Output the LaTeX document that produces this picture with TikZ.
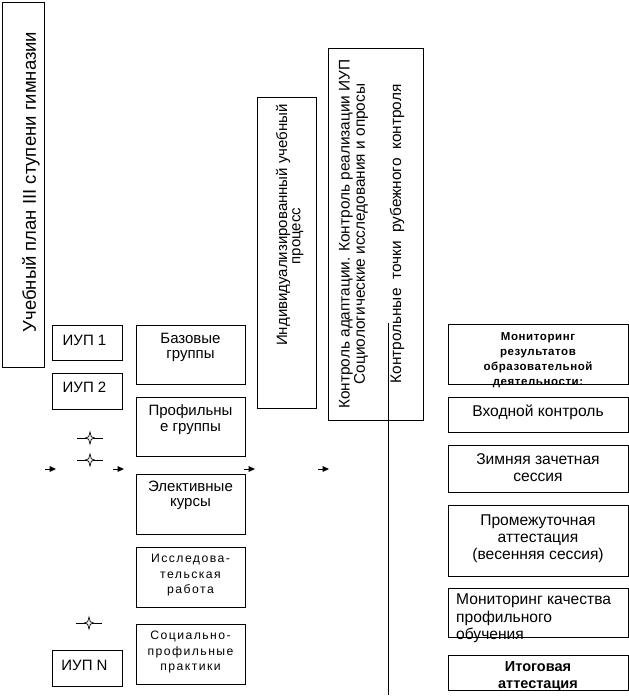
\documentclass[tikz,border=0pt]{standalone}
\usepackage{fontspec}
\setmainfont{Liberation Sans}
\begin{document}
\begin{tikzpicture}[x=1pt,y=-1pt,
  box/.style={draw, line width=0.9pt, inner sep=0pt},
  txt/.style={inner sep=0pt, align=center},
  f14/.style={font=\fontsize{15}{15.5}\selectfont},
  f15/.style={font=\fontsize{15.6}{16.8}\selectfont},
  fctl/.style={font=\fontsize{15.4}{16}\selectfont},
  fsm/.style={font=\fontsize{12.2}{15.5}\selectfont\addfontfeatures{LetterSpace=12}},
  fbold/.style={font=\fontsize{11.5}{15}\selectfont\bfseries\addfontfeatures{LetterSpace=5}},
  starmark/.pic={
    \draw[line width=0.7pt] (-13,0) -- (13,0);
    \draw[line width=0.7pt, fill=white] (0,-6) -- (1.3,-1.3) -- (4.5,0) -- (1.3,1.3) -- (0,6) -- (-1.3,1.3) -- (-4.5,0) -- (-1.3,-1.3) -- cycle;
  },
  arrmark/.pic={
    \draw[line width=0.8pt] (-5,0) -- (0,0);
    \fill (-0.5,-3) -- (6,0) -- (-0.5,3) -- cycle;
  }
]
\useasboundingbox (0,0) rectangle (629,697);
\fill[white] (0,0) rectangle (629,697);

\newcommand{\mybox}[5]{\node[box, anchor=north west, minimum width=#4-#2, minimum height=#5-#3] (#1) at (#2,#3) {};}

\mybox{plan}{2}{2}{44}{367}
\node[txt, rotate=90, font=\fontsize{18.5}{20}\selectfont] (plant) at (31,182) {Учебный план III ступени гимназии};

\mybox{iup1}{52}{325}{122}{360}
\mybox{iup2}{52}{373}{122}{409}
\mybox{iupn}{52}{650}{122}{686}
\node[txt, f14] (iup1t) at (84.5,340) {ИУП 1};
\node[txt, f14] (iup2t) at (84.5,387) {ИУП 2};
\node[txt, f14] (iupnt) at (84.5,665) {ИУП N};

\mybox{baz}{136}{325}{245}{384}
\mybox{prof}{136}{397}{245}{456}
\mybox{elek}{136}{474}{245}{534}
\mybox{issl}{136}{547}{245}{607}
\mybox{soc}{136}{624}{245}{684}
\node[txt, f14] (bazt) at (190.5,347.5) {Базовые\\группы};
\node[txt, f14] (proft) at (190.5,419.5) {Профильны\\е группы};
\node[txt, f14] (elekt) at (190.5,495.5) {Элективные\\курсы};
\node[txt, fsm] (isslt) at (190.5,575.5) {Исследова-\\тельская\\работа};
\node[txt, fsm] (soct) at (190.5,652) {Социально-\\профильные\\практики};

\mybox{ind}{257}{97}{316}{408}
\node[txt, rotate=90, f14] (indt1) at (283,225) {Индивидуализированный учебный};
\node[txt, rotate=90, f14] (indt2) at (298,236) {процесс};

\mybox{ctrl}{328}{48}{423}{420}
\node[txt, rotate=90, fctl] (ct1) at (346,234) {Контроль адаптации. Контроль реализации ИУП};
\node[txt, rotate=90, fctl] (ct2) at (361,234) {Социологические исследования и опросы};
\node[txt, rotate=90, fctl] (ct3) at (397,234) {Контрольные\ \ точки\ \ рубежного\ \ контроля};
\coordinate (vtop) at (388,323);
\coordinate (vbot) at (388,695);
\draw[line width=0.9pt] (vtop) -- (vbot);

\mybox{mon}{448}{324}{628}{384}
\mybox{vh}{448}{397}{628}{432}
\mybox{zim}{448}{445}{628}{492}
\mybox{prom}{448}{505}{628}{576}
\mybox{mk}{448}{588}{628}{637}
\mybox{itog}{448}{655}{628}{690}
\node[txt, fbold] (mont) at (538,360) {Мониторинг\\результатов\\образовательной\\деятельности:};
\node[txt, f15] (vht) at (538,412) {Входной контроль};
\node[txt, f15] (zimt) at (538,467.5) {Зимняя зачетная\\сессия};
\node[txt, f15] (promt) at (538,538.5) {Промежуточная\\аттестация\\(весенняя сессия)};
\node[txt, f15, align=left, anchor=north west, font=\fontsize{15.6}{17.5}\selectfont] (mkt) at (456,594) {Мониторинг качества\\профильного\\обучения};
\node[txt, font=\fontsize{14.5}{17}\selectfont\bfseries] (itogt) at (538,676) {Итоговая\\аттестация};

\pic (s1) at (90,438) {starmark};
\pic (s2) at (90,460) {starmark};
\pic (s3) at (89,623) {starmark};

\pic (a1) at (50,469) {arrmark};
\pic (a2) at (118,469) {arrmark};
\pic (a3) at (249,469) {arrmark};
\pic (a4) at (323,469) {arrmark};
\end{tikzpicture}
\end{document}
